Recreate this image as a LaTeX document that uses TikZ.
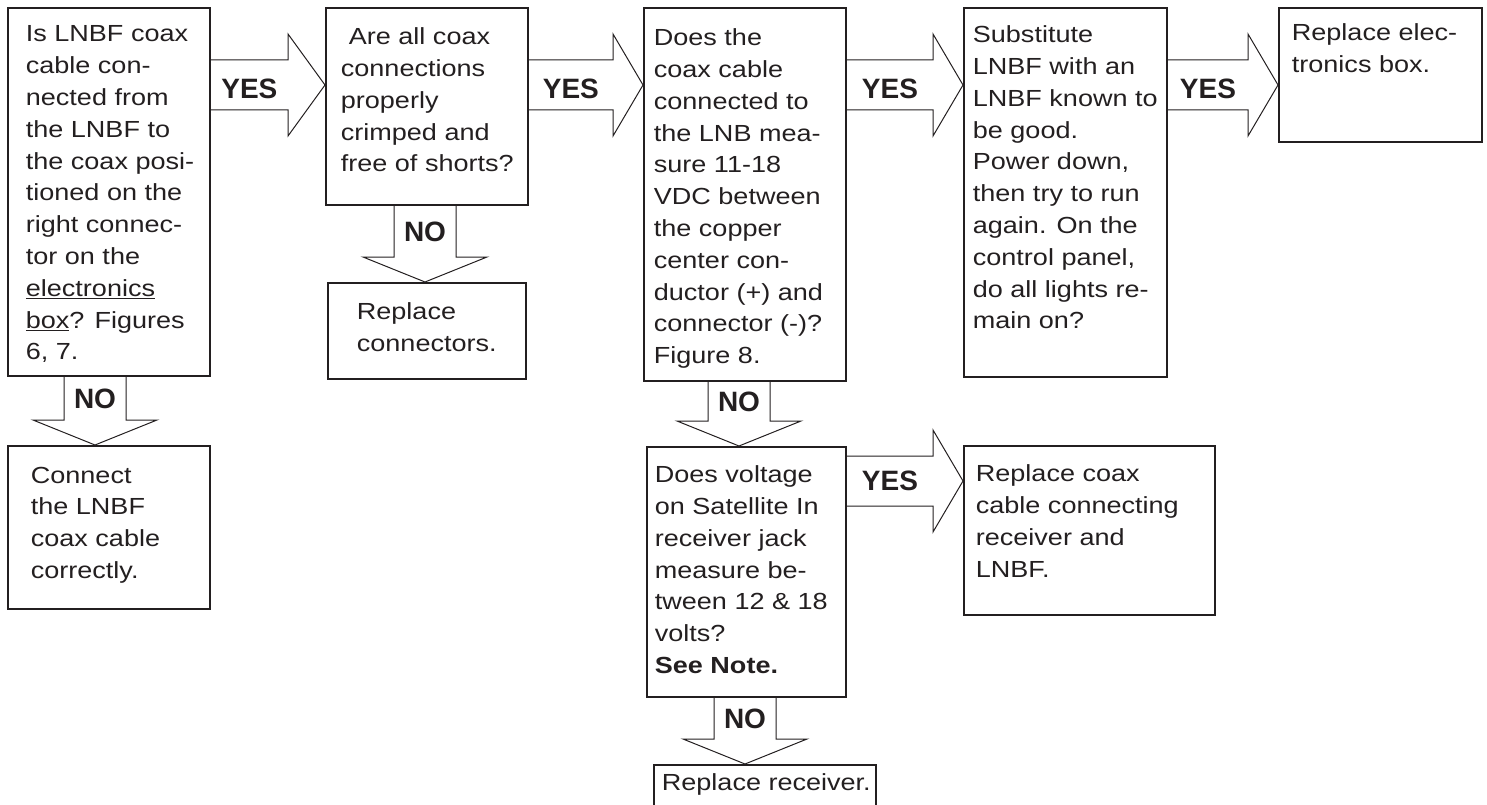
\documentclass[tikz,border=0pt]{standalone}
\usepackage{fontspec}
\usepackage{tikz}
\usetikzlibrary{calc,positioning}
\newfontfamily\flowfont{Liberation Sans}[FakeStretch=1.16]
\newfontfamily\tagfont{Liberation Sans}
\definecolor{ink}{RGB}{35,31,32}
\newcommand{\flowtext}[4][0pt]{\parbox[t][#3][t]{#2}{\raggedright\leftskip=#1\relax #4}}

\begin{document}
\begin{tikzpicture}[
        x=1pt, y=-1pt,
        stepbox/.style={draw=ink, line width=1.8pt, anchor=north west, inner xsep=4pt, inner ysep=18pt, text=ink, font=\flowfont\fontsize{23.3}{31.8}\selectfont},
        tag/.style={inner sep=0pt, text=ink, font=\tagfont\bfseries\fontsize{28}{28}\selectfont},
        yesarrow/.style={draw=ink, line width=1pt, to path={let \p1=(\tikztostart), \p2=(\tikztotarget) in
            (\x1,{\y1+25pt}) -- ({\x2-#1},{\y1+25pt}) -- ({\x2-#1},{\y1+51pt}) -- (\x2,\y1)
            -- ({\x2-#1},{\y1-51pt}) -- ({\x2-#1},{\y1-25pt}) -- (\x1,{\y1-25pt})}},
        yesarrow/.default=30pt,
        noarrow/.style={draw=ink, line width=1pt, to path={let \p1=(\tikztostart), \p2=(\tikztotarget) in
            ({\x1-31pt},\y1) -- ({\x1-31pt},{\y2+25pt}) -- ({\x1-62pt},{\y2+25pt}) -- (\x1,\y2)
            -- ({\x1+62pt},{\y2+25pt}) -- ({\x1+31pt},{\y2+25pt}) -- ({\x1+31pt},\y1)}}
    ]
        \useasboundingbox (0,0) rectangle (1487,805);

        % Question boxes along the top
        \node[stepbox] (q1) at (7,7) {\flowtext[14pt]{194pt}{332pt}{Is LNBF coax\\cable con-\\nected from\\the LNBF to\\the coax posi-\\tioned on the\\right connec-\\tor on the\\\underline{electronics}\\\underline{box}? Figures\\6, 7.}};
        \node[stepbox, inner ysep=20pt] (q2) at (325,7) {\flowtext[11pt]{194pt}{157pt}{\hspace*{8pt}Are all coax\\connections\\properly\\crimped and\\free of shorts?}};
        \node[stepbox, inner ysep=21pt] (q3) at (643,7) {\flowtext[6pt]{194pt}{331pt}{Does the\\coax cable\\connected to\\the LNB mea-\\sure 11-18\\VDC between\\the copper\\center con-\\ductor (+) and\\connector (-)?\\Figure 8.}};
        \node[stepbox] (q4) at (963,7) {\flowtext[5pt]{195pt}{333pt}{Substitute\\LNBF with an\\LNBF known to\\be good.\\Power down,\\then try to run\\again. On the\\control panel,\\do all lights re-\\main on?}};
        \node[stepbox, inner ysep=16pt] (fix5) at (1278,7) {\flowtext[9pt]{195pt}{102pt}{Replace elec-\\tronics box.}};

        % Boxes for the NO branches
        \node[stepbox, inner ysep=21pt] (fix1) at (7,445) {\flowtext[19pt]{194pt}{121pt}{Connect\\the LNBF\\coax cable\\correctly.}};
        \node[stepbox, inner ysep=20pt] (fix2) at (327,282) {\flowtext[25pt]{190pt}{56pt}{Replace\\connectors.}};
        \node[stepbox, inner ysep=19pt] (q6) at (646,446) {\flowtext[4pt]{191pt}{212pt}{Does voltage\\on Satellite In\\receiver jack\\measure be-\\tween 12 \& 18\\volts?\\\textbf{See Note.}}};
        \node[stepbox, inner ysep=19pt] (fix6) at (963,445) {\flowtext[8pt]{243pt}{131pt}{Replace coax\\cable connecting\\receiver and\\LNBF.}};
        \node[stepbox, inner ysep=9pt] (fix7) at (653,764) {\flowtext[4pt]{214pt}{80pt}{Replace receiver.}};

        % Arrow rows and columns
        \coordinate (row1) at (0,85);
        \coordinate (row2) at (0,481);
        \coordinate (col1) at (95,0);
        \coordinate (col2) at (425,0);
        \coordinate (col3) at (739,0);
        \coordinate (col4) at (745,0);

        % YES arrows
        \draw[yesarrow=37pt] (q1.east |- row1) to (q2.west |- row1);
        \draw[yesarrow] (q2.east |- row1) to (q3.west |- row1);
        \draw[yesarrow] (q3.east |- row1) to (q4.west |- row1);
        \draw[yesarrow] (q4.east |- row1) to (fix5.west |- row1);
        \draw[yesarrow] (q6.east |- row2) to (fix6.west |- row2);
        \node[tag] (yes1) at ($(q1.east |- row1)!0.5!(q2.west |- row1)+(-18.5,4)$) {YES};
        \node[tag] (yes2) at ($(q2.east |- row1)!0.5!(q3.west |- row1)+(-15,4)$) {YES};
        \node[tag] (yes3) at ($(q3.east |- row1)!0.5!(q4.west |- row1)+(-15,4)$) {YES};
        \node[tag] (yes4) at ($(q4.east |- row1)!0.5!(fix5.west |- row1)+(-15,4)$) {YES};
        \node[tag] (yes5) at ($(q6.east |- row2)!0.5!(fix6.west |- row2)+(-15,0)$) {YES};

        % NO arrows
        \draw[noarrow] (col1 |- q1.south) to (col1 |- fix1.north);
        \draw[noarrow] (col2 |- q2.south) to (col2 |- fix2.north);
        \draw[noarrow] (col3 |- q3.south) to (col3 |- q6.north);
        \draw[noarrow] (col4 |- q6.south) to (col4 |- fix7.north);
        \node[tag] (no1) at ($(col1 |- q1.south)!0.5!(col1 |- fix1.north)+(0,-12.5)$) {NO};
        \node[tag] (no2) at ($(col2 |- q2.south)!0.5!(col2 |- fix2.north)+(0,-12.5)$) {NO};
        \node[tag] (no3) at ($(col3 |- q3.south)!0.5!(col3 |- q6.north)+(0,-12.5)$) {NO};
        \node[tag] (no4) at ($(col4 |- q6.south)!0.5!(col4 |- fix7.north)+(0,-12.5)$) {NO};
\end{tikzpicture}
\end{document}
